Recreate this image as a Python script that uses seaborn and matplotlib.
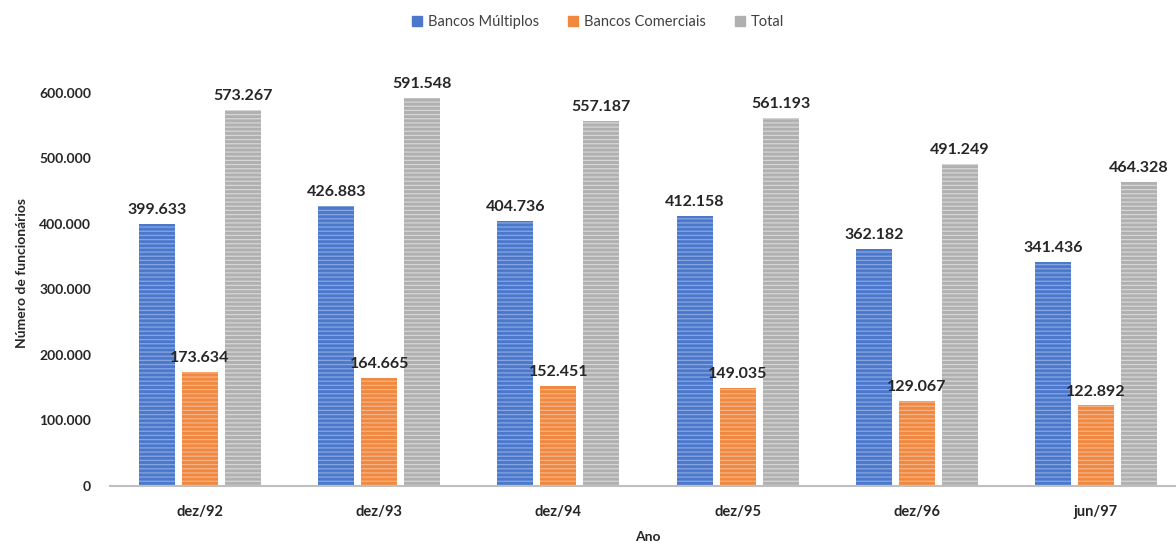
import matplotlib
matplotlib.use("Agg")
import matplotlib.pyplot as plt
import seaborn as sns
import pandas as pd
from matplotlib.ticker import FuncFormatter
from matplotlib.patches import Patch

anos = ["dez/92", "dez/93", "dez/94", "dez/95", "dez/96", "jun/97"]
multiplos = [399633, 426883, 404736, 412158, 362182, 341436]
comerciais = [173634, 164665, 152451, 149035, 129067, 122892]
total = [573267, 591548, 557187, 561193, 491249, 464328]
series = ["Bancos Múltiplos", "Bancos Comerciais", "Total"]
cores = ["#4C78CC", "#F0883F", "#B0B0B0"]
listras = ["#86A6E2", "#F7B386", "#D6D6D6"]

rows = []
for s, vals in zip(series, [multiplos, comerciais, total]):
    for a, v in zip(anos, vals):
        rows.append({"Ano": a, "Série": s, "Valor": v})
df = pd.DataFrame(rows)

sns.set_theme(style="white")
plt.rcParams["font.family"] = ["Lato", "DejaVu Sans"]
plt.rcParams["hatch.linewidth"] = 0.9

fig = plt.figure(figsize=(11.76, 5.43), dpi=100)
ax = fig.add_axes([110.4 / 1176, 1 - 486 / 543, 1075.2 / 1176, (486 - 60) / 543])

sns.barplot(data=df, x="Ano", y="Valor", hue="Série", palette=cores,
            width=0.72, gap=0.16, ax=ax, legend=False, saturation=1)

for cont, lc in zip(ax.containers, listras):
    for p in cont.patches:
        p.set_hatch("----")
        p.set_edgecolor(lc)
        p.set_linewidth(0)
    ax.bar_label(cont, labels=[f"{int(v):,}".replace(",", ".") for v in cont.datavalues],
                 padding=5, fontsize=11.5, fontweight="bold", color="#262626")

ax.set_ylim(0, 650000)
ax.set_yticks([0, 100000, 200000, 300000, 400000, 500000, 600000])
ax.yaxis.set_major_formatter(FuncFormatter(lambda v, p: f"{int(v):,}".replace(",", ".")))
ax.tick_params(axis="y", length=0, pad=14, labelsize=10, labelcolor="#262626")
ax.tick_params(axis="x", length=0, pad=14, labelsize=10.5, labelcolor="#262626")
for lab in ax.get_yticklabels() + ax.get_xticklabels():
    lab.set_fontweight("bold")

ax.set_xlabel("Ano", fontsize=10, fontweight="bold", color="#262626", labelpad=8)
ax.set_ylabel("Número de funcionários", fontsize=10, fontweight="bold", color="#262626", labelpad=8)

for side in ["top", "right", "left"]:
    ax.spines[side].set_visible(False)
ax.spines["bottom"].set_color("#BFBFBF")
ax.spines["bottom"].set_linewidth(1.5)

handles = [Patch(facecolor=c, edgecolor=c) for c in cores]
fig.legend(handles, series, loc="center", bbox_to_anchor=(598 / 1176, 1 - 22 / 543), ncol=3,
           frameon=False, fontsize=10.5, handlelength=0.7, handleheight=0.7,
           handletextpad=0.4, columnspacing=2.0, labelcolor="#404040")

fig.savefig("out.png", dpi=100)
